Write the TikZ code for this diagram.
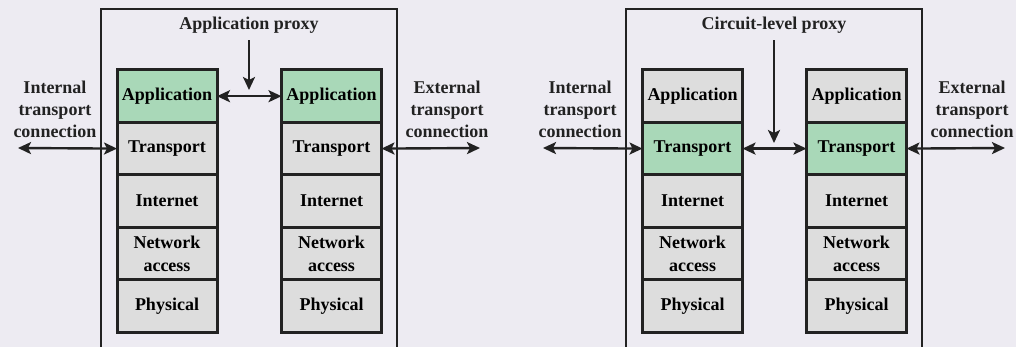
\documentclass[tikz,border=0pt]{standalone}
\usepackage{fontspec}
\setmainfont{Liberation Serif}
\usetikzlibrary{arrows.meta}

\definecolor{bgpaper}{HTML}{EDEBF2}
\definecolor{layergray}{HTML}{DDDDDD}
\definecolor{proxygreen}{HTML}{A9D8B8}
\definecolor{ink}{HTML}{222222}

\tikzset{
    layerbox/.style={draw=ink, rectangle, line width=1.5pt, outer sep=0pt, minimum width=50pt, minimum height=26.2pt, fill=layergray, align=center, inner sep=1pt, font=\fontsize{9}{11.5}\selectfont\bfseries},
    proxybox/.style={layerbox, fill=proxygreen},
    sidetext/.style={align=center, font=\fontsize{9}{11}\selectfont\bfseries, text=ink},
    conn/.style={draw=ink, line width=1.2pt, {Stealth[length=6.5pt, width=6pt, inset=1.5pt]}-{Stealth[length=6.5pt, width=6pt, inset=1.5pt]}},
    down/.style={draw=ink, line width=1.2pt, -{Stealth[length=6.5pt, width=6pt, inset=1.5pt]}}
}

\begin{document}
\begin{tikzpicture}[x=0.5pt, y=-0.5pt]
    \clip (0,0) rectangle (1016,347);
    \fill[bgpaper] (0,0) rectangle (1016,347);

    % gateways
    \draw[ink, line width=0.75pt] (101,9) rectangle (397,400);
    \draw[ink, line width=0.75pt] (626,9) rectangle (922,400);

    % application-level gateway
    \draw
    (167,70)node[proxybox, anchor=90](a1){Application}
    (a1.270)node[layerbox, anchor=90](t1){Transport}
    (t1.270)node[layerbox, anchor=90](i1){Internet}
    (i1.270)node[layerbox, anchor=90](n1){Network\\access}
    (n1.270)node[layerbox, anchor=90](p1){Physical}
    ;
    \draw
    (331.5,70)node[proxybox, anchor=90](a2){Application}
    (a2.270)node[layerbox, anchor=90](t2){Transport}
    (t2.270)node[layerbox, anchor=90](i2){Internet}
    (i2.270)node[layerbox, anchor=90](n2){Network\\access}
    (n2.270)node[layerbox, anchor=90](p2){Physical}
    ;

    % circuit-level gateway
    \draw
    (692.5,70)node[layerbox, anchor=90](a3){Application}
    (a3.270)node[proxybox, anchor=90](t3){Transport}
    (t3.270)node[layerbox, anchor=90](i3){Internet}
    (i3.270)node[layerbox, anchor=90](n3){Network\\access}
    (n3.270)node[layerbox, anchor=90](p3){Physical}
    ;
    \draw
    (856.5,70)node[layerbox, anchor=90](a4){Application}
    (a4.270)node[proxybox, anchor=90](t4){Transport}
    (t4.270)node[layerbox, anchor=90](i4){Internet}
    (i4.270)node[layerbox, anchor=90](n4){Network\\access}
    (n4.270)node[layerbox, anchor=90](p4){Physical}
    ;

    % labels
    \node[sidetext] (aprox) at (249,25) {Application proxy};
    \node[sidetext] (cprox) at (774,25) {Circuit-level proxy};
    \node[sidetext] (in1) at (55,109) {Internal\\transport\\connection};
    \node[sidetext] (ex1) at (447,109) {External\\transport\\connection};
    \node[sidetext] (in2) at (580,109) {Internal\\transport\\connection};
    \node[sidetext] (ex2) at (972,109) {External\\transport\\connection};

    % connections
    \coordinate (inend1) at (18,148);
    \coordinate (exend1) at (480,148);
    \coordinate (inend2) at (543,148);
    \coordinate (exend2) at (1005,148);
    \coordinate (atip) at (249,90);
    \coordinate (ctip) at (774,143);

    \draw[conn] (inend1) -- (t1.west);
    \draw[conn] (t2.east) -- (exend1);
    \draw[conn] (a1.east) -- (a2.west);
    \draw[down] (aprox.south) -- (atip);

    \draw[conn] (inend2) -- (t3.west);
    \draw[conn] (t4.east) -- (exend2);
    \draw[conn] (t3.east) -- (t4.west);
    \draw[down] (cprox.south) -- (ctip);
\end{tikzpicture}
\end{document}
